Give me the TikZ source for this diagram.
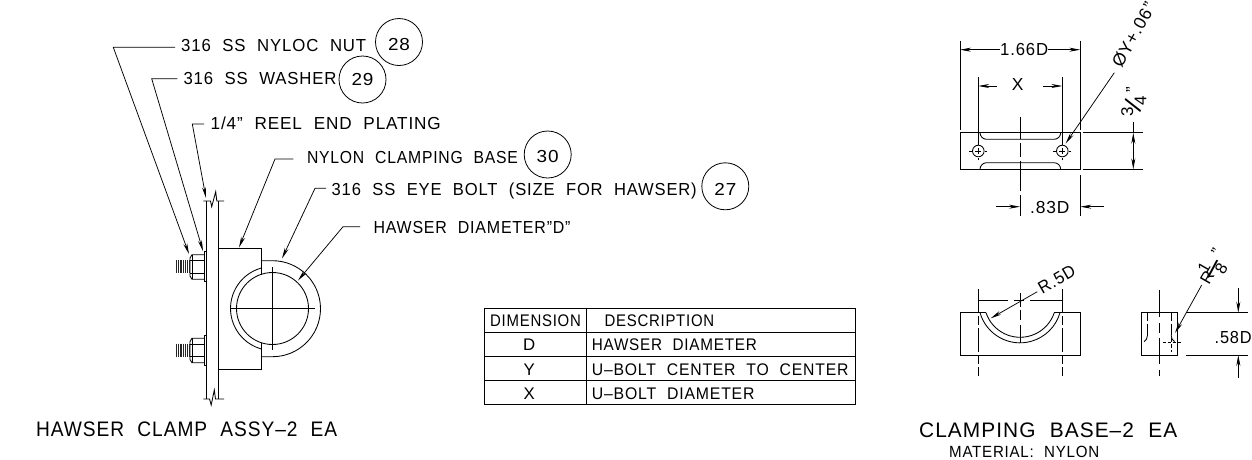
\documentclass[tikz,border=0pt]{standalone}
\usepackage{fontspec}
\usepackage{graphicx}
\setmainfont{Liberation Sans}[LetterSpace=5,WordSpace=2.1]
\newfontfamily\plainf{Liberation Sans}
\usetikzlibrary{arrows.meta}
\newcommand\fw[2]{\resizebox{#1pt}{\height}{#2}}
\newcommand\cnum[2]{\raisebox{-#1pt}[0pt][0pt]{\fw{22}{#2}}}
\newcommand\pc[3]{\rlap{\kern#1pt\raisebox{#2pt}[0pt][0pt]{\makebox[0pt]{#3}}}}
\newcommand\slashg[1]{\rotatebox[origin=c]{#1}{\fontsize{26}{26}\selectfont/}}
\newcommand\szA{\fontsize{17.4}{20}\selectfont}
\newcommand\szB{\fontsize{16.8}{20}\selectfont}
\newcommand\szC{\fontsize{21}{24}\selectfont}
\newcommand\szD{\fontsize{16.2}{20}\selectfont}
\tikzset{
  ln/.style={line width=0.85pt,black},
  thinln/.style={line width=0.7pt,black},
  lead/.style={line width=0.75pt,black,-{Stealth[length=11pt,width=4pt]}},
  dimtip/.style={line width=0.75pt,black,-{Stealth[length=11pt,width=4pt]}},
  dimtips/.style={line width=0.75pt,black,{Stealth[length=11pt,width=4pt]}-{Stealth[length=11pt,width=4pt]}},
  lbl/.style={inner ysep=0pt,inner xsep=0pt,anchor=base west,font=\szA},
  captxt/.style={inner sep=0pt,anchor=base west},
  tbl/.style={inner sep=0pt,anchor=base west,font=\szB},
  tblc/.style={inner sep=0pt,anchor=base,font=\szB},
  bub/.style={draw,circle,line width=0.8pt,minimum size=47pt,inner sep=0pt,font=\szA},
  cdash/.style={line width=0.8pt,black,dash pattern=on 24pt off 3pt on 9pt off 3pt},
}
\begin{document}
\begin{tikzpicture}[x=1pt,y=-1pt]
\useasboundingbox[fill=white] (0,0) rectangle (1252,459);

% ---------- labels and balloons
\node[lbl,inner xsep=6pt] (lnut) at (175,51.7) {\fw{185}{316 SS NYLOC NUT}};
\node[lbl,inner xsep=6pt] (lwash) at (177.3,84.3) {\fw{153}{316 SS WASHER}};
\node[lbl,inner xsep=6.5pt] (lplate) at (204,129.3) {\fw{230}{1/4” REEL END PLATING}};
\node[lbl,inner xsep=13.5pt] (lnyl) at (293.3,163.3) {\fw{211}{NYLON CLAMPING BASE}};
\node[lbl,inner xsep=5.5pt] (leye) at (326,195) {\fw{365}{316 SS EYE BOLT (SIZE FOR HAWSER)}};
\node[lbl,inner xsep=13.3pt] (lhaw) at (360,233) {\fw{197}{HAWSER DIAMETER”D”}};
\node[bub] (b28) at (399,42) {\cnum{8.3}{28}};
\node[bub] (b29) at (362.5,79.5) {\cnum{6}{29}};
\node[bub] (b30) at (547.7,154.5) {\cnum{8}{30}};
\node[bub] (b27) at (725.3,186.3) {\cnum{9.6}{27}};

% ---------- assembly drawing
% plate with break marks
\draw[ln] (206.7,201) -- (206.7,399) (218.7,201) -- (218.7,399);
\draw[ln] (203.3,201) -- (210.5,201) -- (211.7,206.7) -- (215.7,191.7) -- (216.8,201) -- (224,201);
\draw[ln] (203.3,399) -- (209.5,399) -- (211.2,405) -- (214.3,390) -- (215.5,399) -- (224,399);
% base
\draw[ln] (261,275) -- (261,248.7) -- (218.7,248.7) -- (218.7,369) -- (261,369) -- (261,342.5);
% ring and u-bolt
\draw[ln] (261,260.7) -- (272.5,260.7) arc[start angle=-90,end angle=90,radius=48] -- (261,356.7);
\draw[ln] (272.5,308.5) circle[radius=36];
\draw[ln] (261,268.1) arc[start angle=254.1,end angle=105.9,radius=42];
% centre lines
\draw[ln] (230,308.3) -- (315,308.3);
\draw[ln] (272.7,267) -- (272.7,350);
% nuts
\foreach \dy in {0,83.5}{
  \begin{scope}[yshift=-\dy pt]
    \draw[thinln] (206.7,251.7) -- (204.3,251.7) -- (204.3,281.7) -- (206.7,281.7);
    \draw[ln] (204.3,254.7) -- (192,254.7) -- (190,258) -- (190,276) -- (192,279.3) -- (204.3,279.3);
    \draw[thinln] (190,260.7) -- (204,260.7) (190,273) -- (204,273) (192,254.7) -- (192,279.3);
    \foreach \tx in {176.5,178.3,...,189.5}{
      \draw[line width=1.15pt,black!85] (\tx,260) -- (\tx,273);
    }
  \end{scope}
}
% leaders
\coordinate (e1) at (113.3,47.3);  \coordinate (t1) at (189,254);
\coordinate (e2) at (151.7,78.7);  \coordinate (t2) at (203,251);
\coordinate (e3) at (192.3,124);   \coordinate (t3) at (206,198);
\coordinate (e4) at (275,159);     \coordinate (t4) at (239,247.5);
\coordinate (e5) at (315,188.3);   \coordinate (t5) at (282,258.5);
\coordinate (e6) at (343,226.7);   \coordinate (t6) at (298,280.5);
\draw[lead] ([yshift=4.4pt]lnut.base west) -- (e1) -- (t1);
\draw[lead] ([yshift=5.6pt]lwash.base west) -- (e2) -- (t2);
\draw[lead] ([yshift=5.3pt]lplate.base west) -- (e3) -- (t3);
\draw[lead] ([yshift=4.3pt]lnyl.base west) -- (e4) -- (t4);
\draw[lead] ([yshift=6.7pt]leye.base west) -- (e5) -- (t5);
\draw[lead] ([yshift=6.3pt]lhaw.base west) -- (e6) -- (t6);
\node[captxt,font=\szC] (capa) at (36,436) {\fw{301}{HAWSER CLAMP ASSY--2 EA}};

% ---------- table
\draw[ln] (484,308.3) rectangle (855,404.3);
\draw[ln] (484,332.3) -- (855,332.3) (484,356) -- (855,356) (484,380) -- (855,380);
\draw[ln] (586.7,308.3) -- (586.7,404.3);
\node[tbl] (th1) at (490,326) {\fw{90.7}{DIMENSION}};
\node[tbl] (th2) at (604.3,326) {\fw{109.7}{DESCRIPTION}};
\node[tblc] (c1a) at (529.3,350.7) {D};
\node[tbl] (c1b) at (591.7,350.7) {\fw{165}{HAWSER DIAMETER}};
\node[tblc] (c2a) at (529.3,375) {Y};
\node[tbl] (c2b) at (591.7,375) {\fw{256.6}{U--BOLT CENTER TO CENTER}};
\node[tblc] (c3a) at (529.3,399.3) {X};
\node[tbl] (c3b) at (591.7,399.3) {\fw{162.6}{U--BOLT DIAMETER}};

% ---------- clamping base, top view
\draw[ln] (960,132.7) rectangle (1080.3,169.3);
\draw[ln] (980,132.7) arc[start angle=180,end angle=90,radius=6.6] -- (1054.1,139.3) arc[start angle=90,end angle=0,radius=6.6];
\draw[ln] (980,169.3) arc[start angle=180,end angle=270,radius=6.6] -- (1054.1,162.7) arc[start angle=270,end angle=360,radius=6.6];
\foreach \hx in {978.3,1062.3}{
  \draw[ln] (\hx,151) circle[radius=5.8];
  \draw[thinln] (\hx-3,151) -- (\hx+3,151) (\hx,148) -- (\hx,154);
  \draw[thinln] (\hx-9,151) -- (\hx-6.8,151) (\hx+6.8,151) -- (\hx+9,151) (\hx,160) -- (\hx,157.8);
}
\draw[ln] (960,40.7) -- (960,130) (1080.3,40.7) -- (1080.3,130);
\draw[ln] (978.3,77.3) -- (978.3,145) (1062.3,77.3) -- (1062.3,145);
\draw[ln,dash pattern=on 22pt off 4pt on 14pt off 4pt on 30pt off 4pt on 22pt] (1020,117) -- (1020,216);
\draw[ln] (1080.3,175) -- (1080.3,216);
\node[inner sep=0pt,anchor=base west,font=\szA] (d166) at (1000,55.7) {\fw{48}{1.66D}};
\coordinate (d166l) at (960,49.7); \coordinate (d166r) at (1080.3,49.7);
\draw[dimtip] (d166.west |- d166l) -- (d166l);
\draw[dimtip] (d166.east |- d166r) -- (d166r);
\node[inner sep=0pt,anchor=base,font=\szA] (dx) at (1017.7,90) {X};
\coordinate (dxl) at (978.3,86); \coordinate (dxr) at (1062.3,86);
\coordinate (dxl0) at (996.7,86); \coordinate (dxr0) at (1043.3,86);
\draw[dimtip] (dxl0) -- (dxl);
\draw[dimtip] (dxr0) -- (dxr);
\node[inner sep=0pt,anchor=base west,font=\szA] (d83) at (1030,213.3) {\fw{39.3}{.83D}};
\coordinate (d83l) at (1020,206.7); \coordinate (d83r) at (1080.3,206.7);
\coordinate (d83l0) at (996,206.7); \coordinate (d83r0) at (1104,206.7);
\draw[dimtip] (d83l0) -- (d83l);
\draw[dimtip] (d83r0) -- (d83r);
\draw[ln] (1082.7,132.7) -- (1142.7,132.7) (1082.7,169.3) -- (1142.7,169.3);
\coordinate (d34a) at (1133.3,121.7); \coordinate (d34b) at (1133.3,132.7); \coordinate (d34c) at (1133.3,169.3);
\draw[line width=0.75pt] (d34a) -- (d34b);
\draw[dimtips] (d34b) -- (d34c);
\node[rotate=90,anchor=base,inner sep=0pt,font=\plainf\fontsize{17}{18}\selectfont] (d34) at (1133,112) {\pc{0}{0}{3}\pc{6.7}{-9.6}{\slashg{-23}}\pc{11.7}{-13.3}{4}\pc{22.4}{-4.9}{”}};
\node[rotate=61,inner sep=0pt,font=\szA] (dy) at (1133.5,35) {\fw{71}{ØY+.06”}};
\coordinate (dys) at (1114.3,72.7); \coordinate (dyt) at (1065.7,143.3);
\draw[lead] (dys) -- (dyt);

% ---------- clamping base, front view
\draw[ln] (986,312.7) -- (960,312.7) -- (960,355) -- (1080.3,355) -- (1080.3,312.7) -- (1054,312.7);
\draw[ln] (980,312.7) arc[start angle=164,end angle=16,radius=41.6];
\draw[ln] (986,312.7) arc[start angle=161.5,end angle=18.5,radius=36];
\draw[cdash] (978.3,289.3) -- (978.3,375.7);
\draw[cdash] (1062.3,289.3) -- (1062.3,375.7);
\draw[ln,dash pattern=on 14pt off 3pt on 10pt off 5pt on 24pt] (1020,293) -- (1020,343);
\draw[ln,dash pattern=on 30pt off 6pt on 10pt off 6pt on 32pt] (978.3,300.7) -- (1062.3,300.7);
\node[rotate=30,inner sep=0pt,font=\szA] (dr5) at (1056.7,279.3) {\fw{40}{R.5D}};
\coordinate (drs) at (1037.3,291.7); \coordinate (drt) at (990.7,318.3);
\draw[lead] (drs) -- (drt);

% ---------- clamping base, side view
\draw[ln] (1141.3,312.7) rectangle (1177.7,355);
\draw[cdash,dash pattern=on 27pt off 6pt on 10pt off 5pt on 26pt off 6pt on 26pt] (1159.3,290) -- (1159.3,375.7);
\draw[ln,dash pattern=on 8pt off 3pt on 12pt off 3pt] (1147.3,312.7) -- (1147.3,336);
\draw[ln,dash pattern=on 8pt off 3pt on 12pt off 3pt] (1171.3,312.7) -- (1171.3,335);
\draw[ln] (1147.3,336) arc[start angle=0,end angle=60,radius=6.5] (1171.3,335) -- (1171.3,336) arc[start angle=180,end angle=120,radius=6.5];
\draw[thinln,dash pattern=on 3pt off 2pt] (1162.5,342.5) -- (1181,342.5);
\draw[thinln,dash pattern=on 4pt off 2pt] (1171.3,338) -- (1171.3,352);
\coordinate (rs) at (1201.7,285); \coordinate (rt) at (1175,333);
\draw[lead] (rs) -- (rt);
\node[rotate=60,anchor=base,inner sep=0pt,font=\plainf\fontsize{16.5}{18}\selectfont] (dr18) at (1212,280) {\pc{0}{0}{R}\pc{6.5}{7.2}{1}\pc{9.5}{-4.5}{\slashg{-73}}\pc{14.5}{-8}{8}\pc{26.6}{4.2}{”}};
\draw[ln] (1186,312.7) -- (1248,312.7) (1186,355) -- (1248,355);
\coordinate (s1) at (1238.3,288); \coordinate (s2) at (1238.3,312.7);
\coordinate (s3) at (1238.3,378); \coordinate (s4) at (1238.3,355);
\draw[dimtip] (s1) -- (s2);
\draw[dimtip] (s3) -- (s4);
\node[inner sep=0pt,anchor=base west,font=\szA] (d58) at (1214.5,343.3) {\fw{37}{.58D}};
\node[captxt,font=\szC] (capb) at (919,437) {\fw{258}{CLAMPING BASE--2 EA}};
\node[captxt,font=\szD] (capc) at (949,457) {\fw{150}{MATERIAL: NYLON}};
\end{tikzpicture}
\end{document}
